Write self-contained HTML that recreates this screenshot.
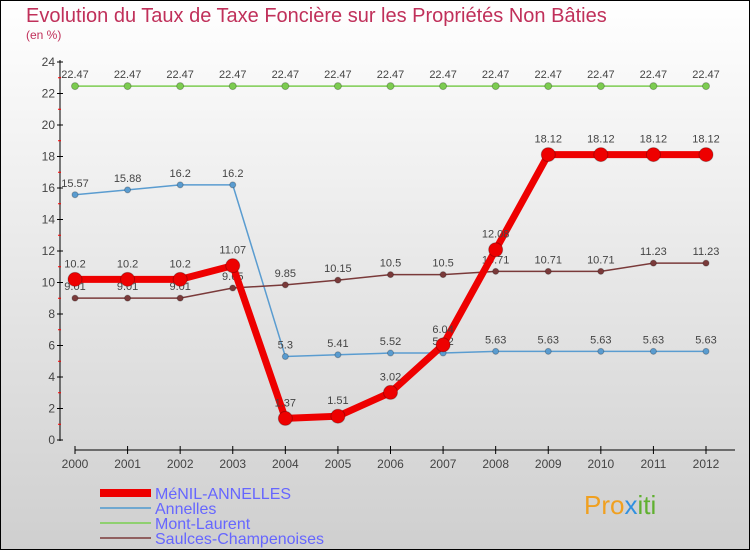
<!DOCTYPE html>
<html><head><meta charset="utf-8"><style>
body{margin:0}
#c{width:750px;height:550px;position:relative;overflow:hidden;font-family:"Liberation Sans",sans-serif}
</style></head><body>
<div id="c">
<svg id="s" width="750" height="550" xmlns="http://www.w3.org/2000/svg">
<defs><linearGradient id="bg" x1="0" y1="0" x2="0" y2="1"><stop offset="0" stop-color="#ffffff"/><stop offset="1" stop-color="#cfcfcf"/></linearGradient></defs>
<rect x="0.5" y="0.5" width="749" height="549" fill="url(#bg)" stroke="#000"/>
<text x="26" y="22" font-size="20" fill="#c0305a">Evolution du Taux de Taxe Foncière sur les Propriétés Non Bâties</text>
<text x="26" y="39" font-size="12" fill="#c0305a">(en %)</text>
<g id="axes"></g><g id="series"></g>
<g>
<rect x="100" y="489" width="51" height="8" fill="#e00"/>
<text x="155" y="499" font-size="16" fill="#6666ff">MéNIL-ANNELLES</text>
<rect x="100" y="507" width="51" height="2" fill="#6fa8d0"/>
<text x="155" y="514" font-size="16" fill="#6666ff">Annelles</text>
<rect x="100" y="522" width="51" height="2" fill="#8fd070"/>
<text x="155" y="529" font-size="16" fill="#6666ff">Mont-Laurent</text>
<rect x="100" y="537" width="51" height="2" fill="#906060"/>
<text x="155" y="544" font-size="16" fill="#6666ff">Saulces-Champenoises</text>
</g>
<text x="584" y="514" font-size="26" fill="#f0a020">Pro<tspan fill="#3090e0">x</tspan><tspan fill="#60b030">iti</tspan></text>
</svg>
<script>
const years=[2000,2001,2002,2003,2004,2005,2006,2007,2008,2009,2010,2011,2012];
const menil=[10.2,10.2,10.2,11.07,1.37,1.51,3.02,6.04,12.08,18.12,18.12,18.12,18.12];
const annelles=[15.57,15.88,16.2,16.2,5.3,5.41,5.52,5.52,5.63,5.63,5.63,5.63,5.63];
const montLaurent=[22.47,22.47,22.47,22.47,22.47,22.47,22.47,22.47,22.47,22.47,22.47,22.47,22.47];
const saulces=[9.01,9.01,9.01,9.65,9.85,10.15,10.5,10.5,10.71,10.71,10.71,11.23,11.23];
const yTicks=[0,2,4,6,8,10,12,14,16,18,20,22,24];
const NS='http://www.w3.org/2000/svg';
const X=i=>75+i*(706-75)/(years.length-1);
const Y=v=>440-v*(440-62)/24;
function mk(t,a,p){const e=document.createElementNS(NS,t);for(const k in a)e.setAttribute(k,a[k]);p.appendChild(e);return e;}
const ax=document.getElementById('axes');
let e=mk('line',{x1:60,y1:60,x2:60,y2:441,stroke:'#000'},ax);


e=mk('line',{x1:75,y1:450,x2:735,y2:450,stroke:'#000'},ax);


yTicks.forEach(v=>{
 mk('line',{x1:57,y1:Y(v),x2:63,y2:Y(v),stroke:'#000'},ax);
 if(v<24)mk('line',{x1:58,y1:Y(v+1),x2:61,y2:Y(v+1),stroke:'#f00'},ax);
 const t=mk('text',{x:55,y:Y(v)+4,'font-size':12,'text-anchor':'end',fill:'#444'},ax);t.textContent=v;
 
 
});
years.forEach((y,i)=>{
 mk('line',{x1:X(i),y1:446,x2:X(i),y2:454,stroke:'#000'},ax);
 const t=mk('text',{x:X(i),y:468,'font-size':12,'text-anchor':'middle',fill:'#444'},ax);t.textContent=y;
 
 
});
const sg=document.getElementById('series');
function draw(vals,col,w,r,name,dy){
 const g=mk('g',{},sg);
 
 
 mk('polyline',{points:vals.map((v,i)=>X(i)+','+Y(v)).join(' '),fill:'none',stroke:col,'stroke-width':w},g);
 vals.forEach((v,i)=>{
  const c=mk('circle',{cx:X(i),cy:Y(v),r:r,fill:col,stroke:'rgba(0,0,0,0.25)'},g);
  
  
  const t=mk('text',{x:X(i),y:Y(v)-dy,'font-size':11,'text-anchor':'middle',fill:'#444'},g);t.textContent=v;
 });
}
draw(montLaurent,'#7ccc50',1.5,3.5,'mont-laurent',8);
draw(annelles,'#5a9cd0',1.5,3,'annelles',8);
draw(saulces,'#7a3a3a',1.5,3,'saulces',8);
draw(menil,'#ee0000',7,7,'menil',12);
</script>
</div></body></html>
